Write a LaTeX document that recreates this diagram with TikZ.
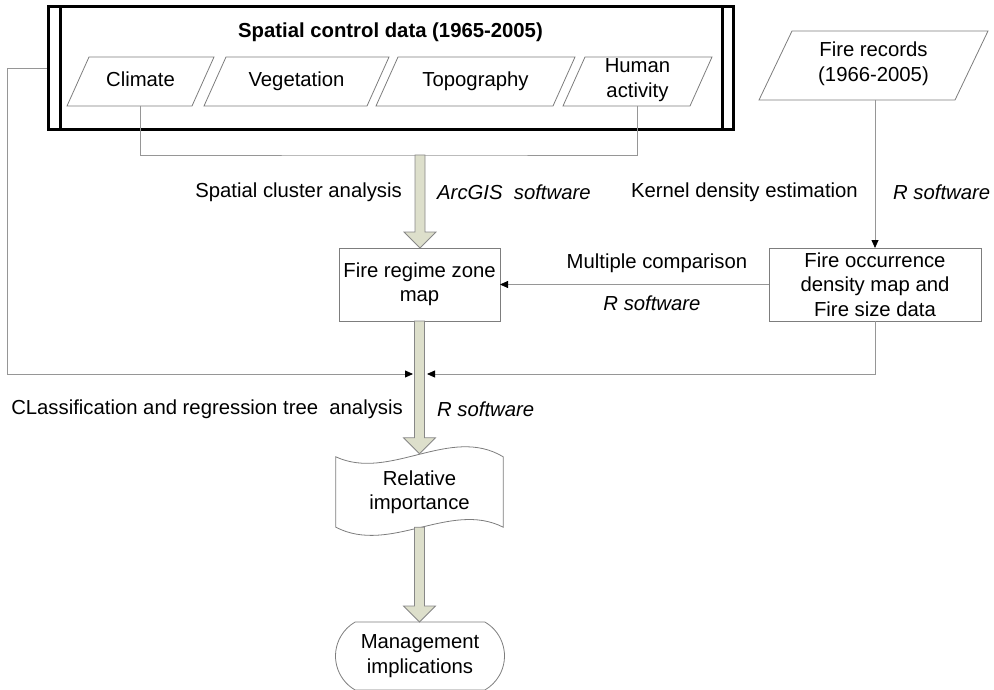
\documentclass[tikz,border=0pt]{standalone}
\usepackage{fontspec}
\setmainfont{Liberation Sans}
\usetikzlibrary{shapes.misc,arrows.meta,calc}

\definecolor{linegray}{RGB}{150,150,150}
\definecolor{boxgray}{RGB}{125,125,125}
\definecolor{arrowfill}{RGB}{221,223,203}
\definecolor{arrowline}{RGB}{135,135,135}

% thick block arrow between two points on one vertical
\newcommand{\fatarrow}[2]{%
  \draw[fatarrow] let \p1=(#1), \p2=(#2) in
    (\x1-5pt,\y1) -- (\x1-5pt,\y2+16pt) -- (\x1-16pt,\y2+16pt) -- (\x1,\y2)
    -- (\x1+16pt,\y2+16pt) -- (\x1+5pt,\y2+16pt) -- (\x1+5pt,\y1) -- cycle;}
% parallelogram (data) outline round a named node, #2 = slant
\newcommand{\slantbox}[2]{%
  \draw[box] ([xshift=-#2/2]#1.south west) -- ([xshift=#2/2]#1.north west)
    -- ([xshift=#2/2]#1.north east) -- ([xshift=-#2/2]#1.south east) -- cycle;}

\begin{document}
\begin{tikzpicture}[x=1pt, y=-1pt, font=\fontsize{20.3}{24.5}\selectfont,
    box/.style={draw=boxgray, line width=0.8pt, align=center, inner sep=0pt, outer sep=0pt},
    datain/.style={align=center, inner sep=0pt, outer sep=0pt, minimum height=49,
      execute at begin node=\strut, execute at end node=\strut},
    lbl/.style={inner sep=0pt, align=center},
    soft/.style={inner sep=0pt, font=\fontsize{20.3}{24.5}\selectfont\itshape},
    link/.style={draw=linegray, line width=0.8pt},
    tip/.style={link, -{Triangle[length=8pt,width=7pt,color=black]}},
    fatarrow/.style={draw=arrowline, fill=arrowfill, line width=0.8pt}]
  \useasboundingbox (0,0) rectangle (994,690);

  % Spatial control data (top left)
  \node[draw, line width=3pt, minimum width=685, minimum height=123, inner sep=0pt]
    (spatial) at (390.5,68.5) {};
  \draw[line width=2.5pt] ([xshift=14pt]spatial.north west) -- ([xshift=14pt]spatial.south west);
  \draw[line width=2.5pt] ([xshift=-12pt]spatial.north east) -- ([xshift=-12pt]spatial.south east);
  \node[lbl, font=\fontsize{20.3}{24.5}\selectfont\bfseries] (title) at (390.5,32) {Spatial control data (1965-2005)};

  \node[datain, minimum width=125] (climate) at (140.5,81.5) {Climate};
  \node[datain, minimum width=163] (veg) at (296.5,81.5) {Vegetation};
  \node[datain, minimum width=177] (topo) at (475.5,81.5) {Topography};
  \node[datain, minimum width=127] (human) at (637.5,81.5) {Human\\activity};
  \slantbox{climate}{22}
  \slantbox{veg}{22}
  \slantbox{topo}{22}
  \slantbox{human}{22}

  % Fire records (top right)
  \node[datain, minimum width=196, minimum height=69] (records) at (873.5,65.5) {Fire records\\(1966-2005)};
  \slantbox{records}{33}

  % middle row
  \node[box, minimum width=161, minimum height=73] (regime) at (419.5,284.5) {Fire regime zone\\map};
  \node[box, minimum width=212, minimum height=73] (occ) at (875,284.5)
    {Fire occurrence\\density map and\\Fire size data};

  % lower part
  \node[lbl, minimum width=167, minimum height=70] (relimp) at (419.5,492) {Relative\\importance};
  \draw[box] (relimp.north west) .. controls +(54,25) and +(-53,-32) .. (relimp.north east)
    -- (relimp.south east) .. controls +(-53,-27) and +(54,28) .. (relimp.south west) -- cycle;
  \node[box, rounded rectangle, rounded rectangle arc length=120, minimum width=169,
    minimum height=68] (mgmt) at (420,656) {Management\\implications};

  % connectors
  \coordinate (merge) at (420,155);
  \coordinate (leftin) at (413,374);
  \coordinate (rightin) at (427,374);
  \draw[link] (climate.south) |- (merge) -| (human.south);
  \draw[tip] (occ.north |- records.south) -- (occ.north);
  \draw[tip] (occ.west) -- (regime.east);
  \draw[tip] (spatial.west) -- ++(-39,0) |- (leftin);
  \draw[tip] (occ.south) |- (rightin);

  \fatarrow{merge}{regime.north}
  \fatarrow{regime.south}{[yshift=3pt]relimp.north}
  \fatarrow{relimp.south}{mgmt.north}

  % labels
  \node[lbl, anchor=east] (cluster) at (402,192) {Spatial cluster analysis};
  \node[soft, anchor=west] (arcgis) at (437,192) {ArcGIS\ \ software};
  \node[lbl, anchor=east] (kernel) at (858,192) {Kernel density estimation};
  \node[soft, anchor=west] (rsoft1) at (893,192) {R software};
  \node[lbl] (multi) at (657,263) {Multiple comparison};
  \node[soft] (rsoft2) at (652,303) {R software};
  \node[lbl, anchor=east] (cart) at (403,409) {CLassification and regression tree\ \ analysis};
  \node[soft, anchor=west] (rsoft3) at (437,409) {R software};
\end{tikzpicture}
\end{document}
